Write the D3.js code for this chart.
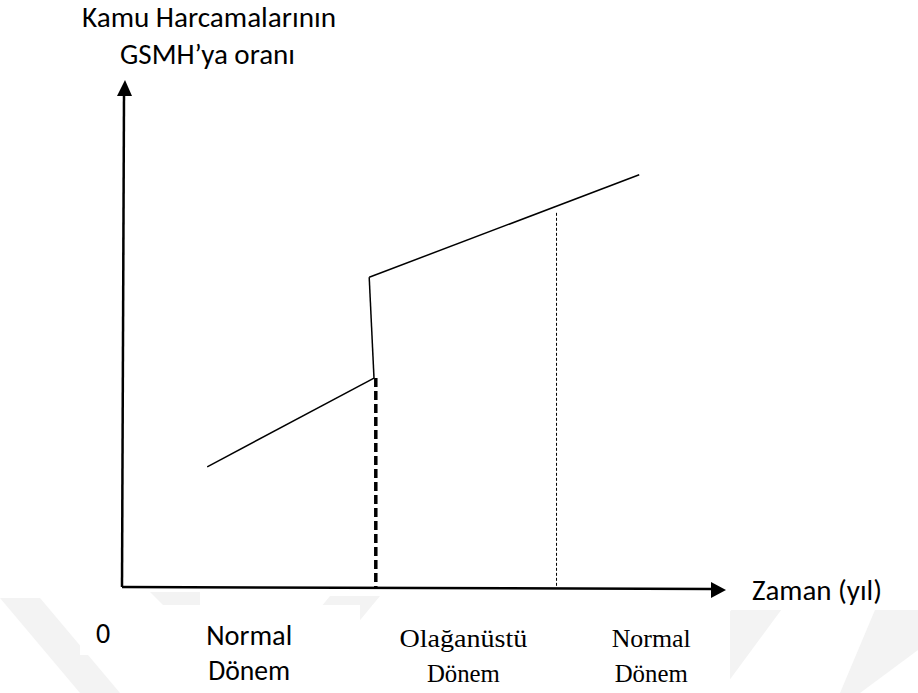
<!DOCTYPE html>
<html>
<head>
<meta charset="utf-8">
<script src="https://cdn.jsdelivr.net/npm/d3@7"></script>
<style>
  html, body { margin: 0; padding: 0; background: #ffffff; }
  svg { display: block; }
</style>
</head>
<body>
<div id="chart"></div>
<script>
// ---- data (in chart units: x = time, y = ratio) ----
const normalLine1 = [ {x: 14.2, y: 23.7}, {x: 42.0, y: 41.2} ];
const jumpLine    = [ {x: 42.0, y: 41.2}, {x: 41.2, y: 61.1} ];
const normalLine2 = [ {x: 41.2, y: 61.1}, {x: 86.2, y: 81.3} ];
const warStartX   = 42.3;   const warStartTop = 41.2;
const warEndX     = 72.42;  const warEndTop   = 73.8;
const yAxisTitle  = ["Kamu Harcamalarının", "GSMH\u2019ya oranı"];
const xAxisTitle  = "Zaman (yıl)";
const originLabel = "0";
const periodLabels = [
  {lines: ["Normal", "Dönem"], x: 21.2, serif: false},
  {lines: ["Olağanüstü", "Dönem"], x: 56.9, serif: true},
  {lines: ["Normal", "Dönem"], x: 88.2, serif: true}
];

const W = 918, H = 693;
const svg = d3.select("#chart").append("svg").attr("width", W).attr("height", H);

const x = d3.scaleLinear().domain([0, 100]).range([122, 722]);
const y = d3.scaleLinear().domain([0, 100]).range([587, 80]);

// faint watermark
const wm = svg.append("g").attr("fill", "#f3f3f3");
[
  [[0,598],[40,598],[120,693],[80,693]],
  [[150,592],[200,592],[200,612],[170,612]],
  [[330,596],[380,596],[300,693],[250,693]],
  [[740,598],[790,598],[720,693],[670,693]],
  [[880,598],[918,598],[918,650],[860,693],[840,693]]
].forEach(p => wm.append("polygon").attr("points", p.map(d => d.join(",")).join(" ")));

// white boxes behind labels (as in original)
const boxes = svg.append("g").attr("fill", "#ffffff");
boxes.append("rect").attr("x", 160).attr("y", 605).attr("width", 200).attr("height", 88);
boxes.append("rect").attr("x", 372).attr("y", 605).attr("width", 182).attr("height", 88);
boxes.append("rect").attr("x", 560).attr("y", 605).attr("width", 170).attr("height", 88);
boxes.append("rect").attr("x", 730).attr("y", 560).attr("width", 188).attr("height", 50);
boxes.append("rect").attr("x", 80).attr("y", 605).attr("width", 80).attr("height", 50);

const line = d3.line().x(d => x(d.x)).y(d => y(d.y));

// axes
const axisG = svg.append("g").attr("stroke", "#000").attr("stroke-width", 2.5).attr("fill", "none");
axisG.append("line").attr("x1", x(0)).attr("y1", y(0)).attr("x2", x(0) + 2).attr("y2", y(100) + 14);
axisG.append("line").attr("x1", x(0)).attr("y1", y(0)).attr("x2", x(100) - 10).attr("y2", y(0) + 2);

// arrowheads
svg.append("path")
  .attr("d", d3.line()([[x(0) + 3, y(100)], [x(0) - 5, y(100) + 16], [x(0) + 10, y(100) + 16]]) + "Z")
  .attr("fill", "#000");
svg.append("path")
  .attr("d", d3.line()([[x(100) + 4, y(0) + 3], [x(100) - 11, y(0) - 5], [x(100) - 11, y(0) + 11]]) + "Z")
  .attr("fill", "#000");

// data lines
const lg = svg.append("g").attr("stroke", "#000").attr("stroke-width", 1.5).attr("fill", "none");
[normalLine1, jumpLine, normalLine2].forEach(seg => lg.append("path").attr("d", line(seg)));

// thick dashed
svg.append("line")
  .attr("x1", x(warStartX)).attr("x2", x(warStartX))
  .attr("y1", y(warStartTop)).attr("y2", y(0))
  .attr("stroke", "#000").attr("stroke-width", 3.5).attr("stroke-dasharray", "9,4");
// thin dashed
svg.append("line")
  .attr("x1", x(warEndX)).attr("x2", x(warEndX))
  .attr("y1", y(warEndTop)).attr("y2", y(0))
  .attr("stroke", "#000").attr("stroke-width", 1).attr("stroke-dasharray", "3,2");

// texts
const sans = "Carlito, Lato, 'Open Sans', sans-serif";
const serif = "'Liberation Serif', 'Times New Roman', serif";
function txt(t, cx, by, fam, fs, len, anchor) {
  const el = svg.append("text").attr("x", cx).attr("y", by)
    .attr("text-anchor", anchor || "middle")
    .attr("font-family", fam).attr("font-size", fs).attr("fill", "#000").text(t);
  if (len) el.attr("textLength", len).attr("lengthAdjust", "spacingAndGlyphs");
  return el;
}
txt(yAxisTitle[0], 209, 27, sans, 28, 254);
txt(yAxisTitle[1], 207.5, 64, sans, 28, 175);
txt(xAxisTitle, 752, 600, sans, 28, 130, "start");
txt(originLabel, 96, 643, sans, 28, null, "start");

const sansLens  = [[86, 82]];
const serifLens = [[128, 73], [79, 73]];
periodLabels.forEach((p, k) => {
  const cx = x(p.x);
  const lens = p.serif ? serifLens[k - 1] : sansLens[0];
  p.lines.forEach((t, i) => {
    txt(t, cx, (p.serif ? 647 : 645) + i * 35,
        p.serif ? serif : sans, p.serif ? 26 : 28, lens[i]);
  });
});
</script>
</body>
</html>
